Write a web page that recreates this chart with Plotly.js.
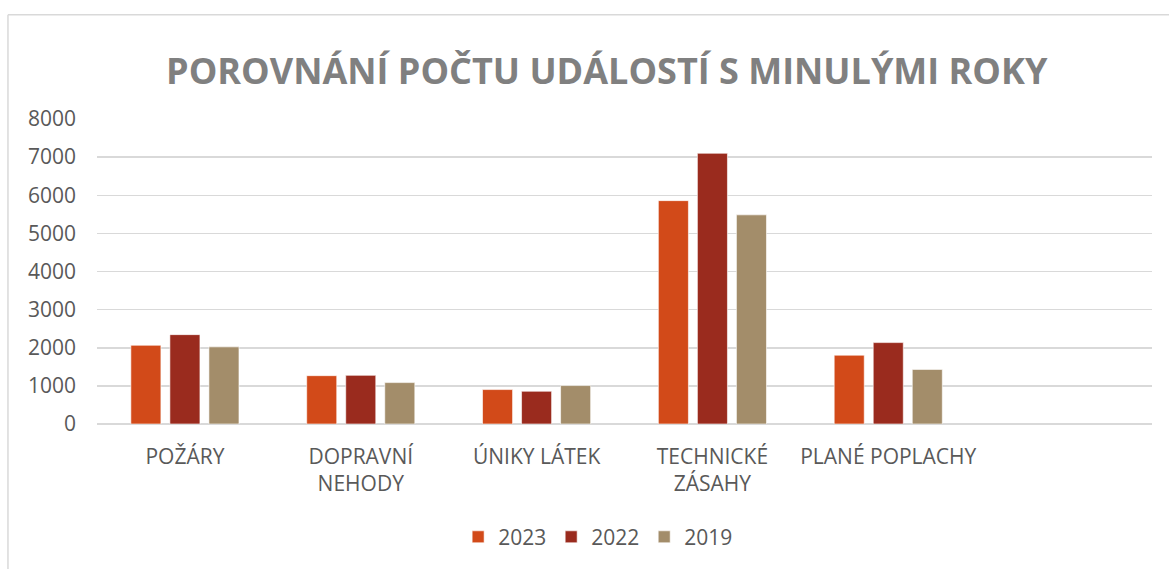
<!DOCTYPE html>
<html>
<head>
<meta charset="utf-8">
<script src="https://cdn.plot.ly/plotly-3.0.1.min.js"></script>
<style>html,body{margin:0;padding:0;background:#fff;}#chart{width:1169px;height:569px;}</style>
</head>
<body>
<div id="chart"></div>
<script>
const categories = ["POŽÁRY", "DOPRAVNÍ<br>NEHODY", "ÚNIKY LÁTEK", "TECHNICKÉ<br>ZÁSAHY", "PLANÉ POPLACHY"];
const seriesNames = ["2023", "2022", "2019"];
const values2023 = [2065, 1268, 903, 5859, 1805];
const values2022 = [2344, 1276, 859, 7101, 2135];
const values2019 = [2023, 1086, 1008, 5486, 1432];
const yTicks = [0, 1000, 2000, 3000, 4000, 5000, 6000, 7000, 8000];
const colors = ["#D24A19", "#9A2B1E", "#A38D6A"];

const allValues = [values2023, values2022, values2019];
const traces = allValues.map((v, i) => ({
  type: "bar",
  name: seriesNames[i],
  x: categories,
  y: v,
  marker: { color: colors[i], line: { color: "rgba(255,255,255,0.6)", width: 1 } },
  hoverinfo: "x+y+name"
}));

const FONT = "Open Sans, Noto Sans, sans-serif";
const layout = {
  width: 1169, height: 569,
  paper_bgcolor: "#ffffff", plot_bgcolor: "#ffffff",
  margin: { l: 97, r: 17, t: 119, b: 143 },
  title: {
    text: "<b>POROVNÁNÍ POČTU UDÁLOSTÍ S MINULÝMI ROKY</b>",
    font: { family: FONT, size: 36, color: "#808080" },
    x: 0.519, xanchor: "center", xref: "container",
    y: 0.874, yanchor: "middle", yref: "container"
  },
  barmode: "group",
  bargap: 0.334,
  bargroupgap: 0.23,
  xaxis: {
    type: "category",
    range: [-0.5, 5.5],
    showgrid: false, zeroline: false, showline: false,
    ticks: "", ticklabelstandoff: 18,
    tickfont: { family: FONT, size: 21, color: "#595959" }
  },
  yaxis: {
    range: [0, 8000],
    tickvals: yTicks,
    ticktext: yTicks.map(String),
    showgrid: true, gridcolor: "#d9d9d9", gridwidth: 1.5,
    zeroline: true, zerolinecolor: "#d9d9d9", zerolinewidth: 1.5,
    showline: false, ticks: "", ticklabelstandoff: 20,
    tickfont: { family: FONT, size: 21, color: "#595959" }
  },
  legend: {
    orientation: "h",
    x: 0.475, xanchor: "center",
    y: -0.371, yanchor: "middle",
    font: { family: FONT, size: 21, color: "#595959" },
    itemclick: false
  },
  shapes: [
    { type: "line", xref: "paper", yref: "paper", x0: -0.0844, x1: -0.0844, y0: 1.342, y1: -0.5, line: { color: "#d9d9d9", width: 1.5 } },
    { type: "line", xref: "paper", yref: "paper", x0: -0.0844, x1: 1.02, y0: 1.342, y1: 1.342, line: { color: "#d9d9d9", width: 1.5 } }
  ],
  showlegend: true
};

Plotly.newPlot("chart", traces, layout, { displayModeBar: false, staticPlot: true });
</script>
</body>
</html>
